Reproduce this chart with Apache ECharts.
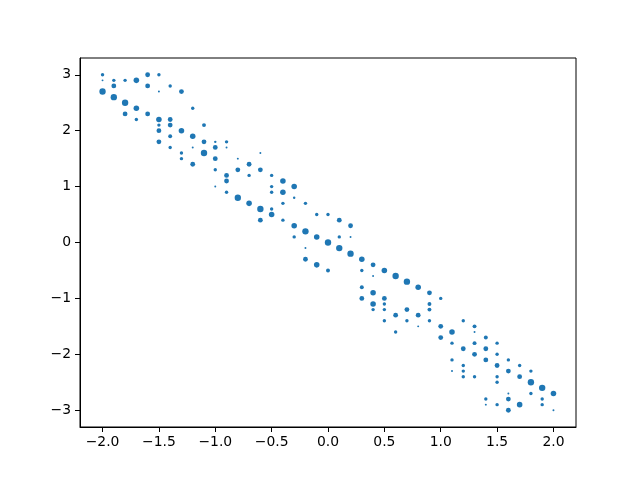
<!DOCTYPE html>
<html>
<head>
<meta charset="utf-8">
<script src="https://cdn.jsdelivr.net/npm/echarts@6/dist/echarts.min.js"></script>
<style>html,body{margin:0;padding:0;background:#fff}#c{width:640px;height:480px}</style>
</head>
<body>
<div id="c"></div>
<script>
// x positions of the point columns
var xCols = [-2.0,-1.9,-1.8,-1.7,-1.6,-1.5,-1.4,-1.3,-1.2,-1.1,-1.0,-0.9,-0.8,-0.7,-0.6,-0.5,-0.4,-0.3,-0.2,-0.1,
             0.0,0.1,0.2,0.3,0.4,0.5,0.6,0.7,0.8,0.9,1.0,1.1,1.2,1.3,1.4,1.5,1.6,1.7,1.8,1.9,2.0];
// y values per column
var yCols = [
  [3.0,2.9,2.7],[2.9,2.8,2.6],[2.9,2.5,2.3],[2.9,2.4,2.2],[3.0,2.8,2.3],
  [3.0,2.7,2.2,2.1,2.0,1.8],[2.8,2.2,2.1,1.9,1.7],[2.7,2.0,1.6,1.5],[2.4,1.9,1.7,1.4],[2.1,1.8,1.6],
  [1.8,1.7,1.5,1.3,1.0],[1.8,1.7,1.2,1.1,0.9],[1.5,1.3,0.8],[1.4,1.2,0.7],[1.6,1.3,0.6,0.4],
  [1.2,1.0,0.9,0.6,0.5],[1.1,0.9,0.7,0.4],[1.0,0.8,0.3,0.1],[0.7,0.2,-0.1,-0.3],[0.5,0.1,-0.4],
  [0.5,0.0,-0.5],[0.4,0.1,-0.1],[0.3,0.1,-0.2],[-0.3,-0.5,-0.8,-1.0],[-0.4,-0.6,-0.9,-1.1,-1.2],
  [-0.5,-1.0,-1.1,-1.2,-1.4],[-0.6,-1.3,-1.6],[-0.7,-1.2,-1.4],[-0.8,-1.3,-1.5],[-0.9,-1.1,-1.2,-1.4],
  [-1.0,-1.5,-1.7],[-1.6,-1.8,-2.1,-2.3],[-1.4,-1.9,-2.2,-2.3,-2.4],[-1.5,-1.6,-1.8,-2.0,-2.4],[-1.7,-1.9,-2.1,-2.8,-2.9],
  [-1.8,-2.0,-2.2,-2.4,-2.5,-2.9],[-2.1,-2.3,-2.7,-2.8,-3.0],[-2.2,-2.4,-2.9],[-2.3,-2.5,-2.7],[-2.6,-2.8,-2.9],
  [-2.7,-3.0]
];
// marker sizes (matplotlib-style area, points^2) per column
var sCols = [
  [6,2,21],[6,12,21],[6,21,12],[16,16,6],[12,12,12],
  [6,2,16,6,12,12],[6,12,12,8,6],[12,16,6,6],[6,16,2,12],[8,12,21],
  [3,12,12,6,2],[6,2,12,12,6],[2,12,21],[12,6,16],[2,12,21,12],
  [6,6,6,6,16],[16,16,6,6],[16,3,16,6],[6,21,2,12],[6,16,16],
  [6,21,8],[12,6,21],[12,2,21],[16,6,8,12],[12,2,16,16,6],
  [16,12,6,6,6],[21,12,6],[21,12,6],[16,12,2],[12,8,8,6],
  [6,12,12],[16,6,6,2],[6,12,6,6,6],[8,2,8,12,6],[8,12,12,6,2],
  [6,6,12,6,6,6],[6,12,2,12,12],[6,12,16],[6,21,6],[21,6,6],
  [16,2]
];
var xTicks = [-2.0,-1.5,-1.0,-0.5,0.0,0.5,1.0,1.5,2.0];
var yTicks = [-3,-2,-1,0,1,2,3];

var data = [];
xCols.forEach(function (x, i) {
  yCols[i].forEach(function (y, j) { data.push([x, y, sCols[i][j]]); });
});

function fmt(v, d) {
  var s = Math.abs(v).toFixed(d);
  return (v < 0 && Math.abs(v) > 1e-9 ? '\u2212' : '') + s;
}

var lbl = { color: '#000', fontSize: 13.9, fontFamily: 'DejaVu Sans' };
var chart = echarts.init(document.getElementById('c'), null, { renderer: 'canvas' });
chart.setOption({
  animation: false,
  backgroundColor: '#fff',
  grid: { left: 80, right: 64, top: 58, bottom: 53, show: true, borderColor: '#000', borderWidth: 1, backgroundColor: 'transparent' },
  xAxis: {
    type: 'value', min: -2.2, max: 2.2,
    axisLine: { show: true, onZero: false, lineStyle: { color: '#000', width: 1 } },
    axisTick: { show: true, length: 5, lineStyle: { color: '#000' }, customValues: xTicks },
    axisLabel: Object.assign({ margin: 8, customValues: xTicks, formatter: function (v) { return fmt(v, 1); } }, lbl),
    splitLine: { show: false }
  },
  yAxis: {
    type: 'value', min: -3.3, max: 3.3,
    axisLine: { show: true, onZero: false, lineStyle: { color: '#000', width: 1 } },
    axisTick: { show: true, length: 5, lineStyle: { color: '#000' }, customValues: yTicks },
    axisLabel: Object.assign({ margin: 9, customValues: yTicks, formatter: function (v) { return fmt(v, 0); } }, lbl),
    splitLine: { show: false }
  },
  series: [{
    type: 'scatter',
    data: data,
    symbol: 'circle',
    symbolSize: function (d) { return Math.sqrt(d[2]) * 1.389; },
    itemStyle: { color: '#1f77b4', opacity: 1 }
  }]
});
</script>
</body>
</html>
